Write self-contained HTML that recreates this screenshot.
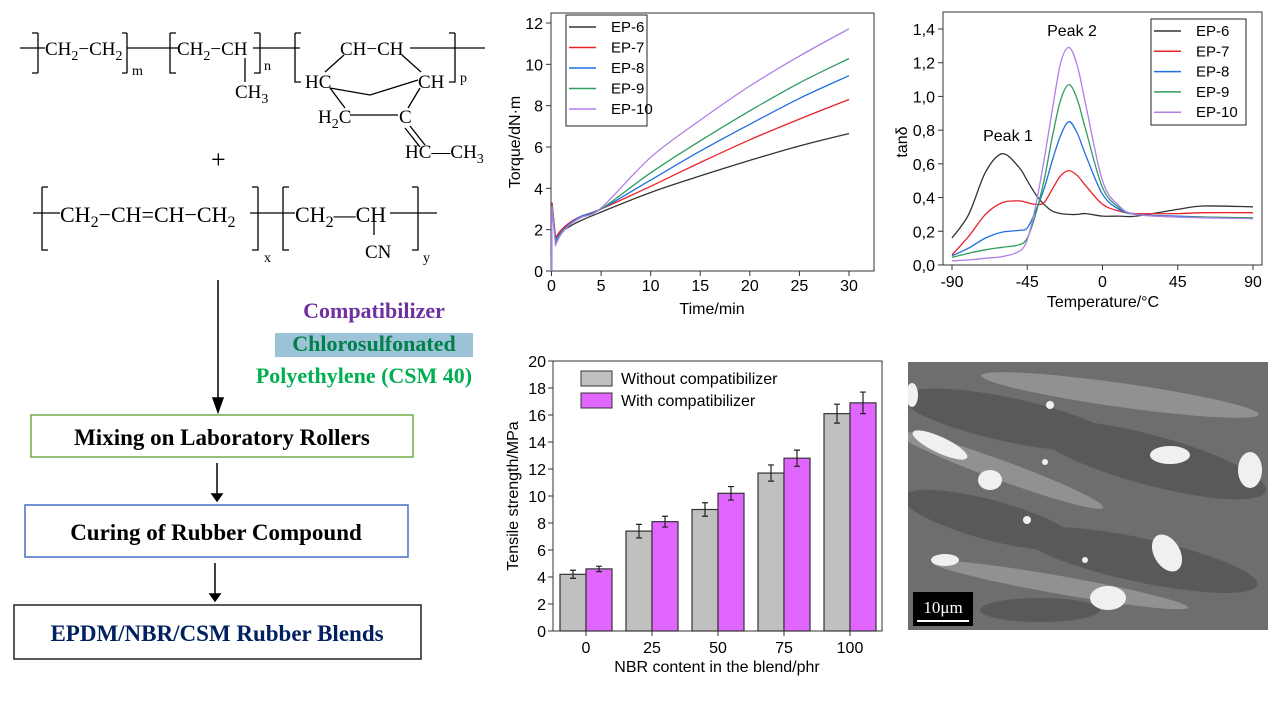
<!DOCTYPE html>
<html><head><meta charset="utf-8"><style>
body{margin:0;background:#fff;width:1274px;height:715px;overflow:hidden}
svg{position:absolute;left:0;top:0}
.ch{font-family:"Liberation Serif",serif;font-size:19px;fill:#000}
.ch2{font-family:"Liberation Serif",serif;font-size:22px;fill:#000}
.sb{font-family:"Liberation Serif",serif;font-size:14px;fill:#000}
.sb2{font-family:"Liberation Serif",serif;font-size:16px;fill:#000}
.ax{font-family:"Liberation Sans",sans-serif;font-size:16px;fill:#000}
.lg{font-family:"Liberation Sans",sans-serif;font-size:15px;fill:#000}
.bx{font-family:"Liberation Serif",serif;font-weight:bold;font-size:23px}
</style></head><body>
<svg width="1274" height="715">
<g stroke="#000" stroke-width="1.3" fill="none">
<path d="M20 48H45M38 33V73M32 33H38M32 73H38"/><path d="M127 48H178M127 33V73M127 33H122M127 73H122"/>
<path d="M170 33V73H176M170 33H176"/><path d="M253 48H300M260 33V73H254M260 33H254"/>
<path d="M245 58V82"/>
<path d="M295 33V82H301M295 33H301"/><path d="M410 48H485M455 33V82H449M455 33H449"/>
<path d="M344 55L325 72M402 55L421 72M330 88L370 95L418 80M330 88L345 108M420 88L408 108M350 115H398M410 126L425 145M405 128L420 147"/>
<path d="M33 213H60M42 187V250H48M42 187H48M250 213H295M258 187V250H252M258 187H252M283 187V250H289M283 187H289M390 213H437M418 187V250H412M418 187H412M374 220V235"/>
</g>
<g>
<text class="ch" x="45" y="55">CH<tspan class="sb" dy="5">2</tspan><tspan dy="-5">−CH</tspan><tspan class="sb" dy="5">2</tspan></text>
<text class="sb" x="132" y="75">m</text>
<text class="ch" x="177" y="55">CH<tspan class="sb" dy="5">2</tspan><tspan dy="-5">−CH</tspan></text>
<text class="sb" x="264" y="70">n</text>
<text class="ch" x="235" y="98">CH<tspan class="sb" dy="5">3</tspan></text>
<text class="ch" x="340" y="55">CH−CH</text>
<text class="sb" x="460" y="82">p</text>
<text class="ch" x="305" y="88">HC</text><text class="ch" x="418" y="88">CH</text>
<text class="ch" x="318" y="123">H<tspan class="sb" dy="5">2</tspan><tspan dy="-5">C</tspan></text>
<text class="ch" x="399" y="123">C</text>
<text class="ch" x="405" y="158">HC—CH<tspan class="sb" dy="5">3</tspan></text>
<text x="211" y="168" style="font-family:'Liberation Serif',serif;font-size:26px">+</text>
<text class="ch2" x="60" y="222">CH<tspan class="sb2" dy="5">2</tspan><tspan dy="-5">−CH=CH−CH</tspan><tspan class="sb2" dy="5">2</tspan></text>
<text class="sb" x="264" y="262">x</text>
<text class="ch2" x="295" y="222">CH<tspan class="sb2" dy="5">2</tspan><tspan dy="-5">—CH</tspan></text>
<text class="ch" x="365" y="258">CN</text>
<text class="sb" x="423" y="262">y</text>
</g>
<g stroke="#000" stroke-width="1.5" fill="#000">
<path d="M218 280V405"/><path d="M213 398L218 412L223 398Z"/>
<path d="M217 463V497"/><path d="M212 494L217 501L222 494Z"/>
<path d="M215 563V597"/><path d="M210 594L215 601L220 594Z"/>
</g>
<rect x="275" y="333" width="198" height="24" fill="#9dc3d9"/>
<text x="374" y="318" text-anchor="middle" class="bx" style="font-size:22px" fill="#7030a0">Compatibilizer</text>
<text x="374" y="351" text-anchor="middle" class="bx" style="font-size:22px" fill="#00804a">Chlorosulfonated</text>
<text x="364" y="383" text-anchor="middle" class="bx" style="font-size:22px" fill="#00b050">Polyethylene (CSM 40)</text>
<rect x="31" y="415" width="382" height="42" fill="none" stroke="#70ad47" stroke-width="1.5"/>
<text x="222" y="445" text-anchor="middle" class="bx" fill="#000">Mixing on Laboratory Rollers</text>
<rect x="25" y="505" width="383" height="52" fill="none" stroke="#4472c4" stroke-width="1.5"/>
<text x="216" y="540" text-anchor="middle" class="bx" fill="#000">Curing of Rubber Compound</text>
<rect x="14" y="605" width="407" height="54" fill="none" stroke="#222" stroke-width="1.5"/>
<text x="217" y="641" text-anchor="middle" class="bx" fill="#002060">EPDM/NBR/CSM Rubber Blends</text>

<g id="torque"></g>
<g id="tand"></g>
<g id="bars"></g>

<g>
<clipPath id="semc"><rect x="908" y="362" width="360" height="268"/></clipPath>
<g clip-path="url(#semc)">
<rect x="908" y="362" width="360" height="268" fill="#6e6e6e"/>
<g fill="#555" opacity="0.8">
<ellipse cx="1010" cy="420" rx="110" ry="22" transform="rotate(12 1010 420)"/>
<ellipse cx="1150" cy="460" rx="120" ry="25" transform="rotate(15 1150 460)"/>
<ellipse cx="990" cy="520" rx="90" ry="20" transform="rotate(15 990 520)"/>
<ellipse cx="1140" cy="560" rx="120" ry="22" transform="rotate(12 1140 560)"/>
<ellipse cx="1040" cy="610" rx="60" ry="12"/>
</g>
<g fill="#9a9a9a" opacity="0.8">
<ellipse cx="1000" cy="470" rx="110" ry="10" transform="rotate(20 1000 470)"/>
<ellipse cx="1120" cy="395" rx="140" ry="12" transform="rotate(8 1120 395)"/>
<ellipse cx="1060" cy="585" rx="130" ry="9" transform="rotate(10 1060 585)"/>
</g>
<g fill="#f0f0f0">
<ellipse cx="940" cy="445" rx="30" ry="8" transform="rotate(25 940 445)"/>
<ellipse cx="990" cy="480" rx="12" ry="10"/>
<ellipse cx="1170" cy="455" rx="20" ry="9"/>
<ellipse cx="1250" cy="470" rx="12" ry="18"/>
<ellipse cx="1167" cy="553" rx="13" ry="20" transform="rotate(-30 1167 553)"/>
<ellipse cx="1108" cy="598" rx="18" ry="12"/>
<ellipse cx="945" cy="560" rx="14" ry="6"/>
<ellipse cx="912" cy="395" rx="6" ry="12"/>
<circle cx="1027" cy="520" r="4"/><circle cx="1050" cy="405" r="4"/><circle cx="1045" cy="462" r="3"/><circle cx="1085" cy="560" r="3"/>
</g>
</g>
<rect x="913" y="592" width="60" height="34" fill="#000"/>
<text x="943" y="613" text-anchor="middle" fill="#fff" style="font-family:'Liberation Serif',serif;font-size:17px">10μm</text>
<line x1="917" y1="621" x2="969" y2="621" stroke="#fff" stroke-width="2"/>
</g>
</svg>
<script>
const NS="http://www.w3.org/2000/svg";
function mk(p,tag,at,txt){const e=document.createElementNS(NS,tag);for(const k in at)e.setAttribute(k,at[k]);if(txt!==undefined)e.textContent=txt;p.appendChild(e);return e;}
function smooth(pts){let d="M"+pts[0][0]+" "+pts[0][1];for(let i=0;i<pts.length-1;i++){const p0=pts[Math.max(0,i-1)],p1=pts[i],p2=pts[i+1],p3=pts[Math.min(pts.length-1,i+2)];const c1=[p1[0]+(p2[0]-p0[0])/6,p1[1]+(p2[1]-p0[1])/6],c2=[p2[0]-(p3[0]-p1[0])/6,p2[1]-(p3[1]-p1[1])/6];d+="C"+c1[0].toFixed(1)+" "+c1[1].toFixed(1)+" "+c2[0].toFixed(1)+" "+c2[1].toFixed(1)+" "+p2[0].toFixed(1)+" "+p2[1].toFixed(1);}return d;}
const seriesNames=["EP-6","EP-7","EP-8","EP-9","EP-10"];
const seriesColors=["#333333","#e8222a","#1f6fe0","#2e9c5c","#b07ee8"];

// Torque data
const torqueTime=[0,0.05,0.4,1,2,3,5,10,15,20,25,30];
const torqueEP6=[0,3.3,1.6,1.9,2.2,2.45,2.85,3.8,4.6,5.35,6.05,6.65];
const torqueEP7=[0,3.3,1.6,2.0,2.4,2.65,3.0,4.1,5.25,6.35,7.35,8.3];
const torqueEP8=[0,3.2,1.45,1.9,2.35,2.65,3.0,4.4,5.8,7.1,8.35,9.45];
const torqueEP9=[0,3.2,1.35,1.85,2.3,2.6,3.0,4.75,6.3,7.75,9.1,10.28];
const torqueEP10=[0,3.1,1.25,1.8,2.3,2.6,3.05,5.5,7.3,8.95,10.4,11.72];
const torqueXTicks=[0,5,10,15,20,25,30];
const torqueYTicks=[0,2,4,6,8,10,12];

// tan delta data
const tempC=[-90,-80,-70,-60,-50,-45,-40,-35,-30,-25,-20,-15,-10,0,10,20,45,60,90];
const tanEP6=[.16,.30,.55,.66,.58,.50,.42,.36,.32,.305,.30,.30,.305,.29,.29,.29,.33,.35,.345];
const tanEP7=[.06,.17,.30,.37,.38,.37,.36,.37,.45,.53,.56,.53,.47,.36,.32,.305,.305,.31,.31];
const tanEP8=[.055,.10,.16,.195,.205,.22,.32,.45,.62,.77,.85,.78,.65,.42,.33,.30,.29,.285,.275];
const tanEP9=[.045,.07,.09,.105,.12,.16,.30,.50,.76,.98,1.07,.98,.80,.46,.34,.30,.285,.285,.28];
const tanEP10=[.025,.03,.04,.05,.08,.15,.35,.62,.92,1.20,1.29,1.18,.95,.50,.35,.30,.285,.28,.275];
const tanXTicks=[-90,-45,0,45,90];
const tanYTicks=[0,0.2,0.4,0.6,0.8,1.0,1.2,1.4];

// tensile data
const nbrCategories=["0","25","50","75","100"];
const tensileWithout=[4.2,7.4,9.0,11.7,16.1];
const tensileWithoutErr=[0.3,0.5,0.5,0.6,0.7];
const tensileWith=[4.6,8.1,10.2,12.8,16.9];
const tensileWithErr=[0.2,0.4,0.5,0.6,0.8];
const tensileYTicks=[0,2,4,6,8,10,12,14,16,18,20];

function frame(g,l,t,r,b){const f=mk(g,"rect",{x:l,y:t,width:r-l,height:b-t,fill:"none",stroke:"#333","stroke-width":1});

}
function legend(g,x,y,w,h,rowH,names,colors){const r=mk(g,"rect",{x:x,y:y,width:w,height:h,fill:"#fff",stroke:"#222","stroke-width":1});


names.forEach((n,i)=>{const yy=y+12+i*rowH;const e=mk(g,"g",{});


mk(e,"line",{x1:x+3,y1:yy,x2:x+30,y2:yy,stroke:colors[i],"stroke-width":1.5});mk(e,"text",{x:x+45,y:yy+5,class:"lg"},n);});}

// Torque chart
(function(){const g=document.getElementById("torque");
const L=551,R=874,T=13,B=271,x0=551.5,x1=849,y0=271,y1=23;
const X=v=>x0+(v/30)*(x1-x0),Y=v=>y0-(v/12)*(y0-y1);
frame(g,L,T,R,B);
torqueXTicks.forEach(t=>{mk(g,"line",{x1:X(t),y1:B,x2:X(t),y2:B+5,stroke:"#333"});const tx=mk(g,"text",{x:X(t),y:B+20,class:"ax","text-anchor":"middle"},t);

});
torqueYTicks.forEach(t=>{mk(g,"line",{x1:L-5,y1:Y(t),x2:L,y2:Y(t),stroke:"#333"});const tx=mk(g,"text",{x:L-8,y:Y(t)+6,class:"ax","text-anchor":"end"},t);

});
const xt=mk(g,"text",{x:712,y:314,class:"ax","text-anchor":"middle"},"Time/min");


const yt=mk(g,"text",{x:520,y:142,class:"ax","text-anchor":"middle",transform:"rotate(-90 520 142)"},"Torque/dN·m");


[torqueEP6,torqueEP7,torqueEP8,torqueEP9,torqueEP10].forEach((s,i)=>{const pts=torqueTime.map((t,j)=>[X(t),Y(s[j])]);
const p=mk(g,"path",{d:"M"+pts.slice(0,3).map(q=>q.join(" ")).join("L")+smooth(pts.slice(2)).replace(/^M[^C]*/,""),fill:"none",stroke:seriesColors[i],"stroke-width":1.3});

});
legend(g,566,15,81,111,20.5,seriesNames,seriesColors);})();

// tan delta chart
(function(){const g=document.getElementById("tand");
const L=943,R=1262,T=12,B=265,x0=952,x1=1253,y0=265,y1=29;
const X=v=>x0+(v+90)/180*(x1-x0),Y=v=>y0-(v/1.4)*(y0-y1);
frame(g,L,T,R,B);
tanXTicks.forEach(t=>{mk(g,"line",{x1:X(t),y1:B,x2:X(t),y2:B+5,stroke:"#333"});const tx=mk(g,"text",{x:X(t),y:B+22,class:"ax","text-anchor":"middle"},t);

});
tanYTicks.forEach(t=>{mk(g,"line",{x1:L-5,y1:Y(t),x2:L,y2:Y(t),stroke:"#333"});const tx=mk(g,"text",{x:L-8,y:Y(t)+6,class:"ax","text-anchor":"end"},t.toFixed(1).replace(".",","));

});
const xt=mk(g,"text",{x:1103,y:307,class:"ax","text-anchor":"middle"},"Temperature/°C");


const yt=mk(g,"text",{x:907,y:142,class:"ax","text-anchor":"middle",transform:"rotate(-90 907 142)"},"tanδ");


[tanEP6,tanEP7,tanEP8,tanEP9,tanEP10].forEach((s,i)=>{const pts=tempC.map((t,j)=>[X(t),Y(s[j])]);
const p=mk(g,"path",{d:smooth(pts),fill:"none",stroke:seriesColors[i],"stroke-width":1.3});

});
const a=mk(g,"text",{x:1008,y:141,class:"ax","text-anchor":"middle"},"Peak 1");


const b=mk(g,"text",{x:1072,y:36,class:"ax","text-anchor":"middle"},"Peak 2");


legend(g,1151,19,95,106,20.3,seriesNames,seriesColors);})();

// tensile chart
(function(){const g=document.getElementById("bars");
const L=553,R=882,T=361,B=631,c0=586,dc=66,bw=26;
const Y=v=>B-(v/20)*(B-T),C=i=>c0+i*dc;
frame(g,L,T,R,B);
tensileYTicks.forEach(t=>{mk(g,"line",{x1:L-5,y1:Y(t),x2:L,y2:Y(t),stroke:"#333"});const tx=mk(g,"text",{x:L-7,y:Y(t)+6,class:"ax","text-anchor":"end"},t);

});
nbrCategories.forEach((c,i)=>{mk(g,"line",{x1:C(i),y1:B,x2:C(i),y2:B+5,stroke:"#333"});const tx=mk(g,"text",{x:C(i),y:B+22,class:"ax","text-anchor":"middle"},c);


[[tensileWithout,tensileWithoutErr,"#c0c0c0",-bw,"bar-without-"],[tensileWith,tensileWithErr,"#e066ff",0,"bar-with-"]].forEach(s=>{
const v=s[0][i],e=s[1][i];const r=mk(g,"rect",{x:C(i)+s[3],y:Y(v),width:bw,height:B-Y(v),fill:s[2],stroke:"#333","stroke-width":1.2});


const cx=C(i)+s[3]+bw/2;const eb=mk(g,"path",{d:`M${cx} ${Y(v+e)}V${Y(v-e)}M${cx-3} ${Y(v+e)}H${cx+3}M${cx-3} ${Y(v-e)}H${cx+3}`,stroke:"#222","stroke-width":1.2,fill:"none"});

});});
const xt=mk(g,"text",{x:717,y:672,class:"ax","text-anchor":"middle"},"NBR content in the blend/phr");


const yt=mk(g,"text",{x:518,y:496,class:"ax","text-anchor":"middle",transform:"rotate(-90 518 496)"},"Tensile strength/MPa");


[["Without compatibilizer","#c0c0c0",371],["With compatibilizer","#e066ff",393]].forEach(l=>{const e=mk(g,"g",{});


mk(e,"rect",{x:581,y:l[2],width:31,height:15,fill:l[1],stroke:"#333"});mk(e,"text",{x:621,y:l[2]+13,class:"ax"},l[0]);});})();
</script>
</body></html>
